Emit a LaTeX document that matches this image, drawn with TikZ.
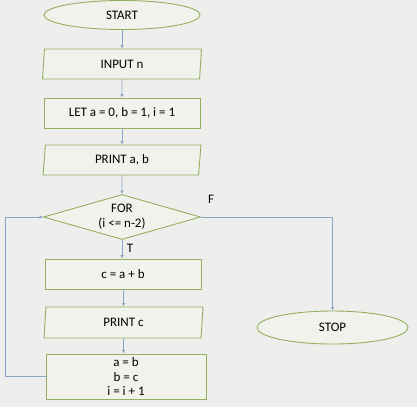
\documentclass[tikz,border=0pt]{standalone}
\usepackage{fontspec}
\setmainfont{Carlito}
\usetikzlibrary{shapes.geometric,arrows.meta}

\definecolor{shapeline}{HTML}{93AF60}
\definecolor{flowline}{HTML}{8AA4C6}
\definecolor{paper}{HTML}{EEEEEC}
\definecolor{boxfill}{HTML}{F1F2EC}

\begin{document}
\begin{tikzpicture}[x=1pt,y=-1pt,
      every node/.style={font=\fontsize{13}{14.7}\selectfont},
      box/.style={draw=shapeline,fill=boxfill,line width=0.9pt,inner sep=0pt},
      term/.style={box,ellipse},
      io/.style={box,trapezium,trapezium left angle=77,trapezium right angle=103,
        trapezium stretches body},
      proc/.style={box,rectangle},
      test/.style={box,diamond,aspect=3.5},
      flow/.style={draw=flowline,line width=0.8pt,-{Latex[length=3.5pt,width=3.5pt]}}]
    \fill[paper] (0,0) rectangle (417,407);
    \useasboundingbox (0,0) rectangle (417,407);
    % shapes
    \node[term,minimum width=156,minimum height=29] (start) at (122,15) {START};
    \node[io,minimum width=159,minimum height=30] (input) at (122,64) {INPUT n};
    \node[proc,minimum width=156,minimum height=30] (init) at (122,113) {LET a = 0, b = 1, i = 1};
    \node[io,minimum width=158,minimum height=30] (printab) at (122,160) {PRINT a, b};
    \node[test,minimum width=157,minimum height=45] (loop) at (122,217) {};
    \node[align=center] (looptext) at (122,217) {FOR\\(i <= n-2)};
    \node[proc,minimum width=156,minimum height=30] (sum) at (123,274) {c = a + b};
    \node[io,minimum width=159,minimum height=31] (printc) at (123.5,322.5) {PRINT c};
    \node[proc,minimum width=160,minimum height=45,align=center] (step) at (126,376.5)
      {a = b\\b = c\\i = i + 1};
    \node[term,minimum width=151,minimum height=33] (stop) at (332.5,327.5) {STOP};
    % labels
    \node (f) at (211,199) {F};
    \node (t) at (130,248) {T};
    % connectors
    \draw[flow] (start) -- (input);
    \draw[flow] (input) -- (init);
    \draw[flow] (init) -- (printab);
    \draw[flow] (printab) -- (loop);
    \draw[flow] (loop.south) -- (loop.south |- sum.north);
    \draw[flow] (sum.south -| printc) -- (printc);
    \draw[flow] (printc) -- (printc |- step.north);
    \draw[flow] (loop.east) -| (stop.north);
    \draw[flow] (step.west) -- (5,376.5) |- (loop.west);
  \end{tikzpicture}
\end{document}
